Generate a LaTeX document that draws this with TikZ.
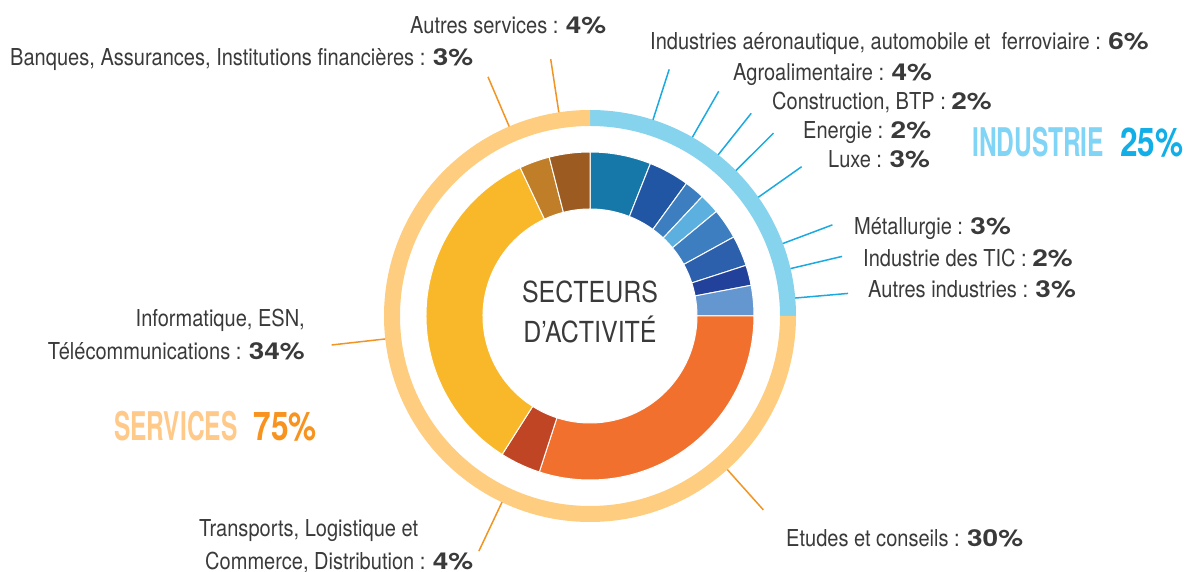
\documentclass[tikz,border=0pt]{standalone}
\usepackage{fontspec}
\setmainfont{TeX Gyre Heros}[FakeStretch=0.86]
\newfontfamily\pcfont{TeX Gyre Heros}[FakeStretch=1.2]
\newfontfamily\bigfont{TeX Gyre Heros}[FakeStretch=0.62]
\newfontfamily\bignum{TeX Gyre Heros}[FakeStretch=0.8]
\usepackage{tikz}

\definecolor{txt}{HTML}{3A3A3A}
\definecolor{sA}{HTML}{1578A8}
\definecolor{sB}{HTML}{2156A5}
\definecolor{sC}{HTML}{3C7EC0}
\definecolor{sD}{HTML}{5BB0E0}
\definecolor{sE}{HTML}{2C5FAC}
\definecolor{sF}{HTML}{22419A}
\definecolor{sG}{HTML}{6496CF}
\definecolor{etu}{HTML}{F2702D}
\definecolor{tra}{HTML}{C04524}
\definecolor{inf}{HTML}{F9B72A}
\definecolor{ban}{HTML}{C07E28}
\definecolor{aus}{HTML}{9C5B21}
\definecolor{indring}{HTML}{85D3ED}
\definecolor{srvring}{HTML}{FFCD7F}
\definecolor{indline}{HTML}{1BA9E1}
\definecolor{srvline}{HTML}{F29422}
\definecolor{indlight}{HTML}{80D4F5}
\definecolor{inddark}{HTML}{12AEE8}
\definecolor{srvlight}{HTML}{FFC98A}
\definecolor{srvdark}{HTML}{F7931E}

\newcommand{\PC}[1]{{\pcfont\bfseries #1}}

\begin{document}
\begin{tikzpicture}[x=1pt, y=1pt,
  lbl/.style={text=txt, font=\fontsize{23.3}{33}\selectfont, inner sep=0pt},
  big/.style={font=\bigfont\bfseries\fontsize{39.5}{40}\selectfont, inner sep=0pt},
  ind/.style={draw=indline, line width=1.5pt},
  srv/.style={draw=srvline, line width=1.5pt},
  part/.style={draw=white, line width=1pt}]

  \useasboundingbox (0,0) rectangle (1195,572);

  \newcommand\rIn{107}
  \newcommand\rOut{164}
  \newcommand\sIn{190}
  \newcommand\sOut{206}

  \begin{scope}[shift={(590,256)}]
    %% secteurs
    \foreach \a/\b/\col in {90/68.4/sA, 68.4/54/sB, 54/46.8/sC, 46.8/39.6/sD,
        39.6/28.8/sC, 28.8/18/sE, 18/10.8/sF, 10.8/0/sG,
        0/-108/etu, -108/-122.4/tra, -122.4/-244.8/inf, -244.8/-255.6/ban, -255.6/-270/aus}
      \filldraw[part, fill=\col] (\a:\rOut) arc[start angle=\a, end angle=\b, radius=\rOut]
        -- (\b:\rIn) arc[start angle=\b, end angle=\a, radius=\rIn] -- cycle;

    %% anneau exterieur
    \fill[indring] (90:\sOut) arc[start angle=90, end angle=0, radius=\sOut]
      -- (0:\sIn) arc[start angle=0, end angle=90, radius=\sIn] -- cycle;
    \fill[srvring] (0:\sOut) arc[start angle=0, end angle=-270, radius=\sOut]
      -- (-270:\sIn) arc[start angle=-270, end angle=0, radius=\sIn] -- cycle;

    %% traits industrie
    \foreach \a [count=\i] in {72.2, 60.2, 51.5, 44.9, 35.2, 20.6, 13.3, 5.0} {
      \coordinate (ia\i) at (\a:\sOut);
      \coordinate (ib\i) at (\a:259);
      \draw[ind] (ia\i) -- (ib\i);
    }
    %% traits services
    \foreach \a [count=\i] in {-48.2, -115.3, 186.4, 113.1, 98.7} {
      \coordinate (sa\i) at (\a:\sOut);
      \coordinate (sb\i) at (\a:260);
      \draw[srv] (sa\i) -- (sb\i);
    }

    \node[text=txt, inner sep=0pt, align=center, font=\fontsize{29}{40}\selectfont]
      (centre) at (0,4) {SECTEURS\\D’ACTIVITÉ};
  \end{scope}

  %% industrie
  \node[lbl, anchor=base west] (lAero) at (650,522) {Industries aéronautique, automobile et~ ferroviaire : \PC{6\%}};
  \node[lbl, anchor=base west] (lAgro) at (733,491) {Agroalimentaire : \PC{4\%}};
  \node[lbl, anchor=base west] (lBtp) at (772,462) {Construction, BTP : \PC{2\%}};
  \node[lbl, anchor=base west] (lEnergie) at (803,433) {Energie : \PC{2\%}};
  \node[lbl, anchor=base west] (lLuxe) at (828,404) {Luxe : \PC{3\%}};
  \node[lbl, anchor=base west] (lMetal) at (854,337) {Métallurgie : \PC{3\%}};
  \node[lbl, anchor=base west] (lTic) at (863,305) {Industrie des TIC : \PC{2\%}};
  \node[lbl, anchor=base west] (lAutInd) at (868,274) {Autres industries : \PC{3\%}};

  %% services
  \node[lbl, anchor=base west] (lAutServ) at (410,538) {Autres services : \PC{4\%}};
  \node[lbl, anchor=base west] (lBanques) at (10,506) {Banques, Assurances, Institutions financières : \PC{3\%}};
  \node[lbl, anchor=north east, align=right] (lInfo) at (305,263) {Informatique, ESN,\\Télécommunications : \PC{34\%}};
  \node[lbl, anchor=north west, align=left] (lTransp) at (199,53) {Transports, Logistique et\\\hspace*{6pt}Commerce, Distribution : \PC{4\%}};
  \node[lbl, anchor=base west] (lEtudes) at (786,25) {Etudes et conseils : \PC{30\%}};

  \node[big, anchor=base west] (tInd) at (972,415) {\textcolor{indlight}{INDUSTRIE}\hspace{16pt}\textcolor{inddark}{\bignum 25\%}};
  \node[big, anchor=base west] (tServ) at (114,131) {\textcolor{srvlight}{SERVICES}\hspace{16pt}\textcolor{srvdark}{\bignum 75\%}};
\end{tikzpicture}
\end{document}
